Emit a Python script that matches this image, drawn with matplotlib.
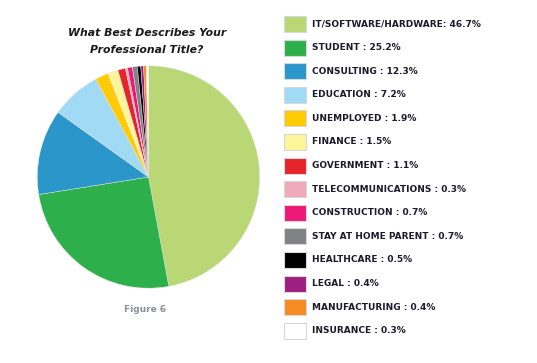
import matplotlib.pyplot as plt
from matplotlib.patches import Rectangle

labels = ["IT/SOFTWARE/HARDWARE", "STUDENT", "CONSULTING", "EDUCATION", "UNEMPLOYED",
          "FINANCE", "GOVERNMENT", "TELECOMMUNICATIONS", "CONSTRUCTION",
          "STAY AT HOME PARENT", "HEALTHCARE", "LEGAL", "MANUFACTURING", "INSURANCE"]
values = [46.7, 25.2, 12.3, 7.2, 1.9, 1.5, 1.1, 0.3, 0.7, 0.7, 0.5, 0.4, 0.4, 0.3]
colors = ["#b9d774", "#2db04b", "#2a96c9", "#a0daf5", "#ffcb05", "#fef59b", "#e5242c",
          "#eeaab8", "#ec1a76", "#808285", "#000000", "#9e1f80", "#f58b21", "#ffffff"]

W, H = 537, 363
fig = plt.figure(figsize=(W / 100, H / 100), dpi=100)

# pie
cx, cy, r = 148.5, 177, 111.5
ax = fig.add_axes([(cx - r) / W, 1 - (cy + r) / H, 2 * r / W, 2 * r / H])
ax.pie(values, colors=colors, startangle=90, counterclock=False,
       wedgeprops=dict(linewidth=0.3, edgecolor="#e6e6e6"))
ax.set_xlim(-1.003, 1.003)
ax.set_ylim(-1.003, 1.003)
ax.set_aspect("equal")
ax.axis("off")

fig.text(147 / W, 1 - 33 / H, "What Best Describes Your", ha="center", va="center",
         fontsize=7.8, fontweight="bold", style="italic", color="#1a1a1a")
fig.text(147 / W, 1 - 50 / H, "Professional Title?", ha="center", va="center",
         fontsize=7.8, fontweight="bold", style="italic", color="#1a1a1a")
fig.text(145 / W, 1 - 310 / H, "Figure 6", ha="center", va="center",
         fontsize=6.5, fontweight="bold", color="#8a8f99")

# legend
y0, dy = 24, 23.6
for i, (lab, v, c) in enumerate(zip(labels, values, colors)):
    y = y0 + i * dy
    fig.patches.append(Rectangle((284 / W, 1 - (y + 8) / H), 22 / W, 16 / H,
                                 transform=fig.transFigure, facecolor=c,
                                 edgecolor="#d8d8d8", linewidth=0.8))
    sep = ": " if i == 0 else " : "
    fig.text(312 / W, 1 - y / H, f"{lab}{sep}{v}%", ha="left", va="center",
             fontsize=6.5, fontweight="bold", color="#1a1a2a")

fig.savefig("out.png", dpi=100)
